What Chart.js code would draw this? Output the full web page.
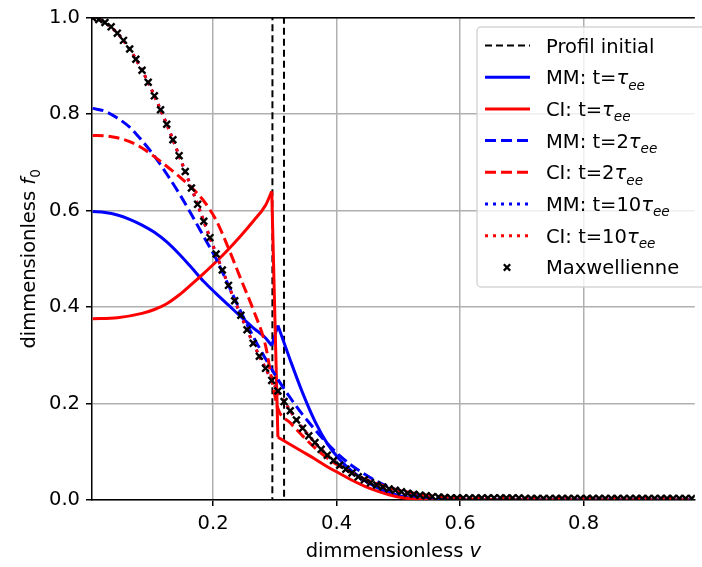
<!DOCTYPE html>
<html>
<head>
<meta charset="utf-8">
<script src="https://cdn.jsdelivr.net/npm/chart.js@4.4.0/dist/chart.umd.min.js"></script>
<style>
  html, body { margin: 0; padding: 0; background: #fff; }
  #wrap { width: 702px; height: 567px; }
</style>
</head>
<body>
<div id="wrap"><canvas id="chart" width="702" height="567"></canvas></div>
<script>
// Values

// Velocity grid used by the Maxwellian markers
const vGrid = [
  0.005, 0.015, 0.025, 0.035, 0.045, 0.055, 0.065, 0.075, 0.085, 0.095,
  0.105, 0.115, 0.125, 0.135, 0.145, 0.155, 0.165, 0.175, 0.185, 0.195,
  0.205, 0.215, 0.225, 0.235, 0.245, 0.255, 0.265, 0.275, 0.285, 0.295,
  0.305, 0.315, 0.325, 0.335, 0.345, 0.355, 0.365, 0.375, 0.385, 0.395,
  0.405, 0.415, 0.425, 0.435, 0.445, 0.455, 0.465, 0.475, 0.485, 0.495,
  0.505, 0.515, 0.525, 0.535, 0.545, 0.555, 0.565, 0.575, 0.585, 0.595,
  0.605, 0.615, 0.625, 0.635, 0.645, 0.655, 0.665, 0.675, 0.685, 0.695,
  0.705, 0.715, 0.725, 0.735, 0.745, 0.755, 0.765, 0.775, 0.785, 0.795,
  0.805, 0.815, 0.825, 0.835, 0.845, 0.855, 0.865, 0.875, 0.885, 0.895,
  0.905, 0.915, 0.925, 0.935, 0.945, 0.955, 0.965, 0.975,
];

const maxwellienne = [
  1.000, 0.996, 0.990, 0.981, 0.968, 0.953, 0.935, 0.914, 0.891, 0.866,
  0.838, 0.809, 0.779, 0.747, 0.714, 0.681, 0.647, 0.613, 0.578, 0.544,
  0.510, 0.477, 0.445, 0.413, 0.383, 0.353, 0.325, 0.298, 0.273, 0.248,
  0.226, 0.204, 0.185, 0.166, 0.149, 0.133, 0.119, 0.105, 0.093, 0.082,
  0.072, 0.064, 0.056, 0.048, 0.042, 0.036, 0.031, 0.027, 0.023, 0.020,
  0.017, 0.014, 0.012, 0.010, 0.009, 0.007, 0.006, 0.005, 0.004, 0.004,
  0.004, 0.004, 0.004, 0.004, 0.004, 0.004, 0.004, 0.004, 0.004, 0.004,
  0.003, 0.003, 0.003, 0.003, 0.003, 0.003, 0.003, 0.003, 0.003, 0.003,
  0.003, 0.003, 0.003, 0.003, 0.003, 0.003, 0.003, 0.003, 0.003, 0.003,
  0.003, 0.003, 0.003, 0.003, 0.003, 0.003, 0.003, 0.003,
];

// Initial profile: a spike between the two dashed verticals (goes far above the axes)
const profilInitial = [[0.004, 0], [0.296, 0], [0.3055, 50], [0.315, 0], [0.98, 0]];

// MM and CI at t = tau_ee
const mmT1 = [
  [0.005, 0.598], [0.025, 0.596], [0.045, 0.591], [0.065, 0.582], [0.085, 0.570],
  [0.105, 0.555], [0.125, 0.535], [0.145, 0.510], [0.165, 0.482], [0.185, 0.453],
  [0.205, 0.428], [0.225, 0.404], [0.245, 0.380], [0.265, 0.357], [0.285, 0.336],
  [0.295, 0.320], [0.305, 0.362], [0.325, 0.290], [0.345, 0.222], [0.365, 0.163],
  [0.385, 0.117], [0.405, 0.084], [0.425, 0.060], [0.445, 0.041], [0.465, 0.026],
  [0.485, 0.015], [0.505, 0.008], [0.525, 0.003], [0.545, 0.001], [0.565, 0],
  [0.975, 0],
];
const ciT1 = [
  [0.005, 0.376], [0.045, 0.378], [0.085, 0.387], [0.105, 0.395], [0.125, 0.407],
  [0.145, 0.425], [0.165, 0.447], [0.185, 0.470], [0.205, 0.494], [0.225, 0.520],
  [0.245, 0.548], [0.265, 0.578], [0.285, 0.611], [0.295, 0.640], [0.305, 0.130],
  [0.325, 0.115], [0.345, 0.100], [0.365, 0.085], [0.385, 0.069], [0.405, 0.055],
  [0.425, 0.041], [0.445, 0.029], [0.465, 0.019], [0.485, 0.011], [0.505, 0.005],
  [0.525, 0.002], [0.545, 0], [0.975, 0],
];

// MM and CI at t = 2 tau_ee
const mmT2 = [
  [0.005, 0.812], [0.025, 0.806], [0.045, 0.792], [0.065, 0.773], [0.085, 0.745],
  [0.105, 0.713], [0.125, 0.676], [0.145, 0.636], [0.165, 0.592], [0.185, 0.546],
  [0.205, 0.500], [0.225, 0.445], [0.245, 0.390], [0.265, 0.339], [0.285, 0.293],
  [0.305, 0.250], [0.325, 0.212], [0.345, 0.177], [0.365, 0.146], [0.385, 0.117],
  [0.405, 0.092], [0.425, 0.071], [0.445, 0.054], [0.465, 0.039], [0.485, 0.027],
  [0.505, 0.018], [0.525, 0.011], [0.545, 0.006], [0.565, 0.003], [0.585, 0.001],
  [0.605, 0], [0.975, 0],
];
const ciT2 = [
  [0.005, 0.756], [0.025, 0.755], [0.045, 0.751], [0.065, 0.743], [0.085, 0.730],
  [0.105, 0.712], [0.125, 0.692], [0.145, 0.671], [0.165, 0.648], [0.185, 0.620],
  [0.205, 0.580], [0.225, 0.522], [0.245, 0.458], [0.265, 0.395], [0.285, 0.320],
  [0.295, 0.250], [0.305, 0.190], [0.325, 0.160], [0.345, 0.133], [0.365, 0.108],
  [0.385, 0.087], [0.405, 0.070], [0.425, 0.056], [0.445, 0.044], [0.465, 0.034],
  [0.485, 0.026], [0.505, 0.019], [0.525, 0.014], [0.545, 0.010], [0.565, 0.007],
  [0.585, 0.005], [0.605, 0.003], [0.645, 0.001], [0.685, 0], [0.975, 0],
];

// MM and CI at t = 10 tau_ee (on top of the Maxwellian)
const mmT10 = [
  [0.005, 1.000], [0.025, 0.990], [0.045, 0.968], [0.065, 0.935], [0.085, 0.891],
  [0.105, 0.838], [0.125, 0.779], [0.145, 0.714], [0.165, 0.647], [0.185, 0.578],
  [0.205, 0.510], [0.225, 0.445], [0.245, 0.383], [0.265, 0.325], [0.285, 0.273],
  [0.305, 0.226], [0.325, 0.185], [0.345, 0.149], [0.365, 0.119], [0.385, 0.093],
  [0.405, 0.072], [0.425, 0.055], [0.445, 0.040], [0.465, 0.029], [0.485, 0.020],
  [0.505, 0.014], [0.525, 0.009], [0.545, 0.006], [0.565, 0.003], [0.585, 0.001],
  [0.605, 0], [0.975, 0],
];
const ciT10 = [
  [0.005, 1.000], [0.025, 0.990], [0.045, 0.968], [0.065, 0.935], [0.085, 0.891],
  [0.105, 0.838], [0.125, 0.779], [0.145, 0.714], [0.165, 0.647], [0.185, 0.578],
  [0.205, 0.510], [0.225, 0.445], [0.245, 0.383], [0.265, 0.325], [0.285, 0.273],
  [0.305, 0.226], [0.325, 0.185], [0.345, 0.149], [0.365, 0.119], [0.385, 0.093],
  [0.405, 0.072], [0.425, 0.056], [0.445, 0.042], [0.465, 0.031], [0.485, 0.023],
  [0.505, 0.017], [0.525, 0.012], [0.545, 0.009], [0.565, 0.006], [0.585, 0.004],
  [0.605, 0.004], [0.975, 0.003],
];

// Axis ticks
const xTicks = [0.2, 0.4, 0.6, 0.8];
const yTicks = [0, 0.2, 0.4, 0.6, 0.8, 1.0];

const FONT = '"DejaVu Sans"';
const FS = 19.5;
const BLUE = "#0000ff", RED = "#ff0000";
const DASH = [11, 5], DOT = [3, 5], BLACK_DASH = [7, 4];

const toPts = (arr) => arr.map(([x, y]) => ({ x, y }));

// Legend labels, split in parts for the italic tau and the "ee" subscript
const tau = (prefix) => [
  { t: prefix }, { t: "τ", italic: true }, { t: "ee", italic: true, sub: true },
];

// jump: index of the point where a straight jump to the next point starts
const series = [
  { label: [{ t: "Profil initial" }], data: profilInitial, color: "#000", width: 2, dash: BLACK_DASH, straight: true },
  { label: tau("MM: t="), data: mmT1, color: BLUE, width: 3, dash: [], jump: 15 },
  { label: tau("CI: t="), data: ciT1, color: RED, width: 3, dash: [], jump: 13 },
  { label: tau("MM: t=2"), data: mmT2, color: BLUE, width: 3, dash: DASH },
  { label: tau("CI: t=2"), data: ciT2, color: RED, width: 3, dash: DASH },
  { label: tau("MM: t=10"), data: mmT10, color: BLUE, width: 3, dash: DOT },
  { label: tau("CI: t=10"), data: ciT10, color: RED, width: 3, dash: DOT },
  { label: [{ t: "Maxwellienne" }], data: vGrid.map((v, i) => [v, maxwellienne[i]]), marker: true },
];

const lineSet = (s, pts, straight, order) => ({
  data: toPts(pts),
  borderColor: s.color,
  borderWidth: s.width,
  borderDash: s.dash,
  borderCapStyle: "butt",
  pointRadius: 0,
  cubicInterpolationMode: straight ? "default" : "monotone",
  tension: 0,
  fill: false,
  order,
});

// Later series are drawn on top, like matplotlib
const datasets = series.flatMap((s, i) => {
  const order = series.length - i;
  if (s.marker) {
    return [{
      data: toPts(s.data),
      showLine: false,
      pointStyle: "crossRot",
      pointRadius: 4.8,
      pointBorderWidth: 2.4,
      pointBorderColor: "#000",
      pointBackgroundColor: "#000",
      borderWidth: 0,
      order,
    }];
  }
  if (s.jump === undefined) return [lineSet(s, s.data, s.straight, order)];
  const j = s.jump;
  return [
    lineSet(s, s.data.slice(0, j + 1), false, order),
    lineSet(s, s.data.slice(j, j + 2), true, order),
    lineSet(s, s.data.slice(j + 1), false, order),
  ];
});

// Rich text helpers
const partsWidth = (ctx, parts, size) => parts.reduce((w, p) => {
  ctx.font = `${p.italic ? "italic " : ""}${p.sub ? size * 0.7 : size}px ${FONT}`;
  return w + ctx.measureText(p.t).width;
}, 0);

const drawParts = (ctx, parts, x, y, size) => {
  parts.forEach((p) => {
    ctx.font = `${p.italic ? "italic " : ""}${p.sub ? size * 0.7 : size}px ${FONT}`;
    ctx.fillText(p.t, x, y + (p.sub ? size * 0.28 : 0));
    x += ctx.measureText(p.t).width;
  });
};

const decorations = {
  id: "decorations",
  afterDraw(chart) {
    const { ctx, chartArea: a } = chart;
    ctx.save();

    // top spine
    ctx.strokeStyle = "#000";
    ctx.lineWidth = 1.5;
    ctx.beginPath();
    ctx.moveTo(a.left, a.top);
    ctx.lineTo(a.right, a.top);
    ctx.stroke();

    // axis titles
    ctx.fillStyle = "#000";
    ctx.textBaseline = "alphabetic";
    const xLabel = [{ t: "dimmensionless " }, { t: "v", italic: true }];
    const xw = partsWidth(ctx, xLabel, FS);
    drawParts(ctx, xLabel, (a.left + a.right) / 2 - xw / 2, 557, FS);

    const yLabel = [{ t: "dimmensionless " }, { t: "f", italic: true }, { t: "0", sub: true }];
    const yw = partsWidth(ctx, yLabel, FS);
    ctx.translate(35, (a.top + a.bottom) / 2);
    ctx.rotate(-Math.PI / 2);
    drawParts(ctx, yLabel, -yw / 2, 0, FS);
    ctx.restore();

    // legend
    ctx.save();
    const lx = 477, ly = 27, lw = 240, lh = 260, r = 4;
    ctx.beginPath();
    ctx.moveTo(lx + r, ly);
    ctx.lineTo(lx + lw - r, ly);
    ctx.arcTo(lx + lw, ly, lx + lw, ly + r, r);
    ctx.lineTo(lx + lw, ly + lh - r);
    ctx.arcTo(lx + lw, ly + lh, lx + lw - r, ly + lh, r);
    ctx.lineTo(lx + r, ly + lh);
    ctx.arcTo(lx, ly + lh, lx, ly + lh - r, r);
    ctx.lineTo(lx, ly + r);
    ctx.arcTo(lx, ly, lx + r, ly, r);
    ctx.closePath();
    ctx.fillStyle = "rgba(255,255,255,0.8)";
    ctx.fill();
    ctx.strokeStyle = "rgba(204,204,204,0.8)";
    ctx.lineWidth = 1.5;
    ctx.stroke();

    series.forEach((s, i) => {
      const y = 45.5 + i * 31.7;
      if (s.marker) {
        const c = 507, d = 3.2;
        ctx.setLineDash([]);
        ctx.strokeStyle = "#000";
        ctx.lineWidth = 2.2;
        ctx.beginPath();
        ctx.moveTo(c - d, y - d); ctx.lineTo(c + d, y + d);
        ctx.moveTo(c - d, y + d); ctx.lineTo(c + d, y - d);
        ctx.stroke();
      } else {
        ctx.setLineDash(s.dash);
        ctx.lineCap = "butt";
        ctx.strokeStyle = s.color;
        ctx.lineWidth = s.width;
        ctx.beginPath();
        ctx.moveTo(485, y);
        ctx.lineTo(530, y);
        ctx.stroke();
      }
      ctx.setLineDash([]);
      ctx.fillStyle = "#000";
      drawParts(ctx, s.label, 546, y + 7, FS);
    });
    ctx.restore();
  },
};

new Chart(document.getElementById("chart"), {
  type: "line",
  data: { datasets },
  options: {
    responsive: false,
    animation: false,
    devicePixelRatio: 1,
    layout: { padding: { top: 16, right: 0, left: 0, bottom: 0 } },
    plugins: {
      legend: { display: false },
      tooltip: { enabled: false },
    },
    scales: {
      x: {
        type: "linear",
        min: 0.004,
        max: 0.98,
        afterBuildTicks: (scale) => { scale.ticks = xTicks.map((value) => ({ value })); },
        afterFit: (scale) => { scale.height = 67; },
        ticks: {
          autoSkip: false,
          maxRotation: 0,
          padding: 6,
          color: "#000",
          font: { family: FONT, size: FS },
          callback: (v) => v.toFixed(1),
        },
        grid: {
          color: "#b0b0b0",
          lineWidth: 1.5,
          tickLength: 6,
          tickColor: "#000",
          tickWidth: 1.5,
        },
        border: { display: true, color: "#000", width: 1.5 },
      },
      y: {
        type: "linear",
        min: 0,
        max: 1,
        afterBuildTicks: (scale) => { scale.ticks = yTicks.map((value) => ({ value })); },
        afterFit: (scale) => { scale.width = 92; },
        ticks: {
          padding: 6,
          color: "#000",
          font: { family: FONT, size: FS },
          callback: (v) => v.toFixed(1),
        },
        grid: {
          color: "#b0b0b0",
          lineWidth: 1.5,
          tickLength: 6,
          tickColor: "#000",
          tickWidth: 1.5,
        },
        border: { display: true, color: "#000", width: 1.5 },
      },
    },
  },
  plugins: [decorations],
});
</script>
</body>
</html>
